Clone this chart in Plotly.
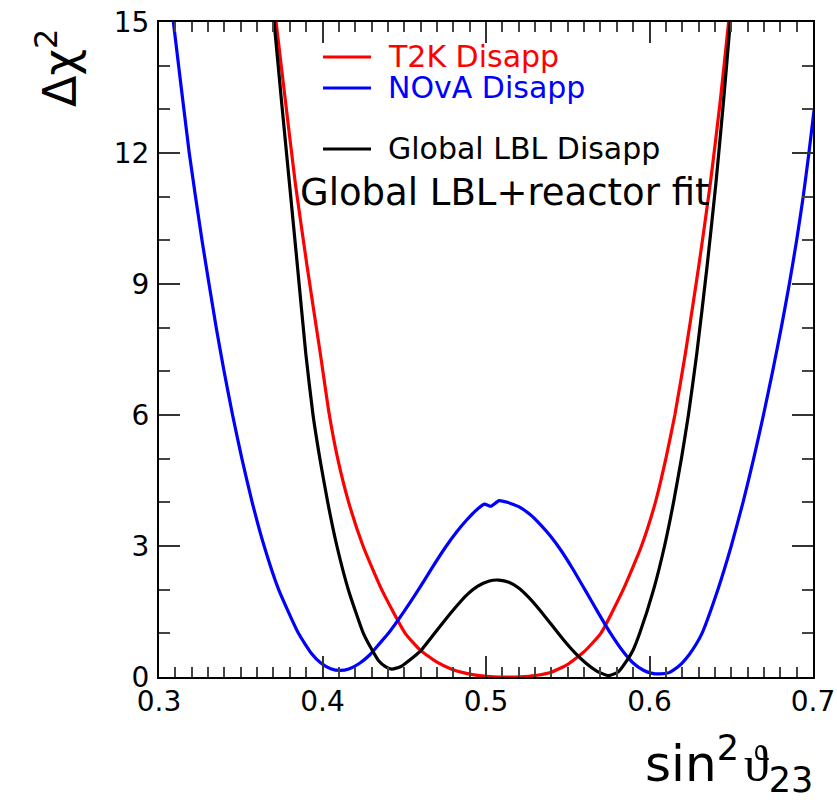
import plotly.graph_objects as go

# Delta chi^2 profiles versus sin^2(theta_23)
t2k_x = [0.3700, 0.3716, 0.3773, 0.3834, 0.3906, 0.3987, 0.4042, 0.4093, 0.4160, 0.4248,
         0.4362, 0.4506, 0.4600, 0.4700, 0.4790, 0.4873, 0.4960, 0.5050, 0.5130, 0.5210,
         0.5300, 0.5400, 0.5500, 0.5600, 0.5702, 0.5839, 0.5951, 0.6036, 0.6100, 0.6155,
         0.6219, 0.6301, 0.6372, 0.6433, 0.6484, 0.6498]
t2k_y = [15.5, 15.0, 13.2, 11.3, 9.4, 7.4, 6.0, 5.0, 4.0, 3.0,
         2.0, 1.0, 0.61, 0.34, 0.18, 0.09, 0.03, 0.004, 0.0, 0.006,
         0.035, 0.11, 0.29, 0.58, 1.0, 2.0, 3.0, 4.0, 5.0, 6.0,
         7.4, 9.4, 11.3, 13.2, 15.0, 15.5]

nova_x = [0.3072, 0.3088, 0.3185, 0.3263, 0.3350, 0.3398, 0.3450, 0.3507, 0.3570, 0.3643,
          0.3732, 0.3853, 0.3930, 0.3990, 0.4050, 0.4108, 0.4165, 0.4225, 0.4290, 0.4350,
          0.4403, 0.4495, 0.4587, 0.4670, 0.4750, 0.4820, 0.4883, 0.4940, 0.4990, 0.5030,
          0.5080, 0.5130, 0.5200, 0.5270, 0.5340, 0.5400, 0.5455, 0.5530, 0.5605, 0.5685,
          0.5765, 0.5835, 0.5900, 0.5960, 0.6010, 0.6066, 0.6120, 0.6180, 0.6240, 0.6285,
          0.6321, 0.6418, 0.6500, 0.6572, 0.6637, 0.6697, 0.6753, 0.6806, 0.6855, 0.6900,
          0.6940, 0.6975, 0.7007]
nova_y = [15.5, 15.0, 12.0, 10.0, 8.0, 7.0, 6.0, 5.0, 4.0, 3.0,
          2.0, 1.0, 0.55, 0.32, 0.19, 0.15, 0.19, 0.31, 0.51, 0.77,
          1.0, 1.48, 2.0, 2.5, 2.96, 3.32, 3.60, 3.82, 3.96, 3.91,
          4.04, 4.0, 3.90, 3.72, 3.46, 3.20, 2.92, 2.48, 2.0, 1.48,
          0.98, 0.60, 0.32, 0.16, 0.09, 0.07, 0.10, 0.25, 0.50, 0.75,
          1.0, 2.0, 3.0, 4.0, 5.0, 6.0, 7.0, 8.0, 9.0, 10.0,
          11.0, 12.0, 13.0]

lbl_x = [0.3690, 0.3704, 0.3749, 0.3798, 0.3847, 0.3898, 0.3942, 0.3984, 0.4032, 0.4088,
         0.4158, 0.4250, 0.4300, 0.4342, 0.4385, 0.4424, 0.4480, 0.4530, 0.4600, 0.4670,
         0.4740, 0.4810, 0.4880, 0.4950, 0.5020, 0.5080, 0.5140, 0.5200, 0.5260, 0.5330,
         0.5400, 0.5470, 0.5540, 0.5610, 0.5680, 0.5750, 0.5810, 0.5862, 0.5900, 0.5940,
         0.6025, 0.6092, 0.6147, 0.6195, 0.6238, 0.6289, 0.6352, 0.6406, 0.6453, 0.6494,
         0.6505]
lbl_y = [15.5, 15.0, 13.2, 11.3, 9.4, 7.4, 6.0, 5.0, 4.0, 3.0,
         2.0, 1.0, 0.64, 0.38, 0.24, 0.18, 0.24, 0.38, 0.60, 0.93,
         1.26, 1.58, 1.87, 2.08, 2.20, 2.22, 2.17, 2.04, 1.83, 1.53,
         1.20, 0.87, 0.57, 0.32, 0.13, 0.03, 0.12, 0.38, 0.62, 1.0,
         2.0, 3.0, 4.0, 5.0, 6.0, 7.4, 9.4, 11.3, 13.2, 15.0,
         15.5]

series = [
    ("T2K Disapp", t2k_x, t2k_y, "#ff0000"),
    ("NOvA Disapp", nova_x, nova_y, "#0000ff"),
    ("Global LBL Disapp", lbl_x, lbl_y, "#000000"),
]

x_ticks = [0.3, 0.4, 0.5, 0.6, 0.7]
y_ticks = [0, 3, 6, 9, 12, 15]

FONT = "DejaVu Sans"

fig = go.Figure()
for name, xs, ys, col in series:
    fig.add_trace(go.Scatter(x=xs, y=ys, mode="lines", name=name,
                             line=dict(color=col, width=3.2, shape="spline", smoothing=0.5),
                             showlegend=False))

axis_common = dict(
    showline=True, linecolor="black", linewidth=2, mirror="allticks",
    ticks="inside", ticklen=21, tickwidth=1.5, tickcolor="#333",
    showgrid=False, zeroline=False, automargin=False,
    tickfont=dict(family=FONT, size=28, color="black"),
)

fig.update_xaxes(range=[0.3, 0.7], tickvals=x_ticks,
                 ticktext=[f"{v:.1f}" for v in x_ticks],
                 minor=dict(dtick=0.01, tick0=0.3, ticks="inside", ticklen=10,
                            tickwidth=1.5, tickcolor="#444"),
                 ticklabelstandoff=-2, **axis_common)
fig.update_yaxes(range=[0, 15], tickvals=y_ticks,
                 ticktext=[str(v) for v in y_ticks],
                 minor=dict(dtick=1, tick0=0, ticks="inside", ticklen=11,
                            tickwidth=1.5, tickcolor="#444"),
                 ticklabelstandoff=2, **axis_common)

W, H = 837, 802
L, R, T, B = 159, 813, 22, 677


def px(xp):
    return (xp - L) / (R - L)


def py(yp):
    return (B - yp) / (B - T)


# legend key lines and labels
legend_rows = [("T2K Disapp", "#ff0000", 57), ("NOvA Disapp", "#0000ff", 88),
               ("Global LBL Disapp", "#000000", 149)]
for text, col, yrow in legend_rows:
    fig.add_shape(type="line", xref="paper", yref="paper",
                  x0=px(323), x1=px(371), y0=py(yrow), y1=py(yrow),
                  line=dict(color=col, width=3))
    fig.add_annotation(xref="paper", yref="paper", x=px(386), y=py(yrow - 1),
                       text=text, showarrow=False, xanchor="left", yanchor="middle",
                       font=dict(family=FONT, size=30, color=col))

fig.add_annotation(xref="paper", yref="paper", x=px(298), y=py(192),
                   text="Global LBL+reactor fit", showarrow=False,
                   xanchor="left", yanchor="middle",
                   font=dict(family=FONT, size=37, color="black"))

# axis titles
fig.add_annotation(xref="paper", yref="paper", x=px(815), y=py(764),
                   text=("sin<sup>2</sup>\u200a<span style='font-family:Liberation Serif'>"
                         "ϑ</span><sub>23</sub>"),
                   showarrow=False, xanchor="right", yanchor="middle",
                   font=dict(family=FONT, size=50, color="black"))
fig.add_annotation(xref="paper", yref="paper", x=px(57), y=py(68),
                   text="Δχ<sup>2</sup>", showarrow=False, textangle=-90,
                   xanchor="center", yanchor="middle",
                   font=dict(family=FONT, size=46, color="black"))

fig.update_layout(width=W, height=H,
                  margin=dict(l=L, r=W - R, t=T, b=H - B, pad=0),
                  paper_bgcolor="white", plot_bgcolor="white")

fig.write_html("out.html")
